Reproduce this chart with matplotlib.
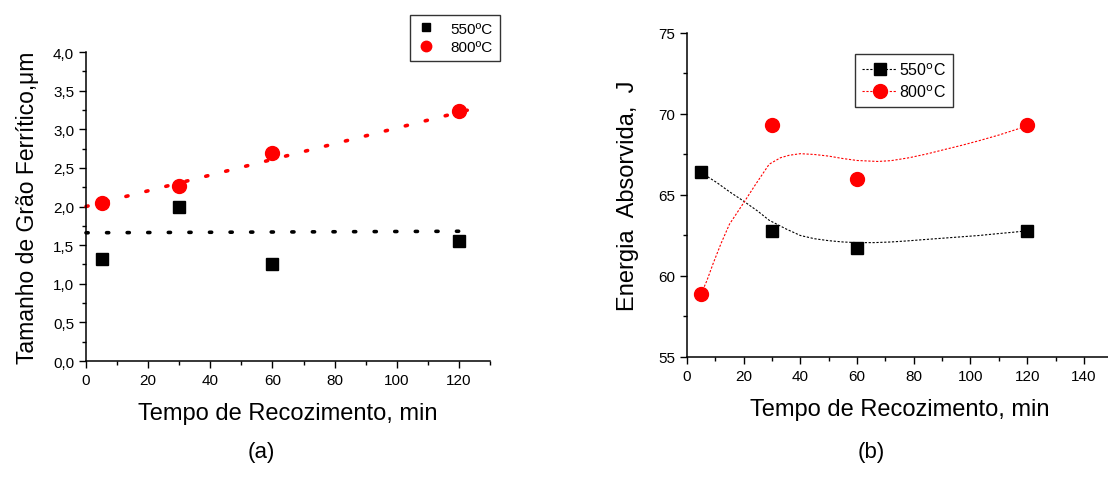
import numpy as np
import matplotlib.pyplot as plt
from matplotlib.ticker import MultipleLocator

plt.rcParams['font.family'] = ['Liberation Sans', 'DejaVu Sans']

#########################################################
# data
#########################################################
tempo = [5, 30, 60, 120]

# (a) grain size, um
grao_550 = [1.32, 2.00, 1.26, 1.55]
grao_800 = [2.05, 2.27, 2.69, 3.23]
fit550_x = [0, 122]
fit550_y = [1.66, 1.68]
fit800_x = [0, 126]
fit800_y = [2.00, 3.28]

# (b) absorbed energy, J
energia_550 = [66.4, 62.8, 61.7, 62.8]
energia_800 = [58.9, 69.3, 66.0, 69.3]
curva550_x = [5, 10.5, 15, 19.75, 25, 29, 35, 40, 45, 50, 55, 60, 66, 72, 78, 84.6, 90, 96.9, 103, 110, 115, 120]
curva550_y = [66.38, 65.77, 65.2, 64.65, 64.0, 63.44, 62.9, 62.5, 62.3, 62.18, 62.1, 62.06, 62.06, 62.1, 62.17, 62.26, 62.33, 62.42, 62.5, 62.62, 62.7, 62.79]
curva800_x = [5, 7, 9.3, 12, 15, 19.75, 24, 29, 33, 36, 40, 45, 50, 55, 60, 67.3, 72, 78.4, 85, 90.7, 97, 103, 110, 115, 120]
curva800_y = [58.9, 59.7, 60.8, 62.0, 63.2, 64.45, 65.6, 66.9, 67.3, 67.45, 67.55, 67.5, 67.4, 67.25, 67.13, 67.07, 67.12, 67.3, 67.55, 67.8, 68.07, 68.35, 68.7, 68.98, 69.26]

#########################################################
# Plot figures
#########################################################
fig = plt.figure(figsize=(11.08, 4.89), dpi=100)

# ---- (a)
ax1 = fig.add_axes([0.0776, 0.2597, 0.3646, 0.6319])
ax1.plot(fit550_x, fit550_y, color="black", lw=2.6, linestyle=(0, (0.6, 5.1)),
         dash_capstyle="round")
ax1.plot(fit800_x, fit800_y, color="red", lw=2.6, linestyle=(0, (0.6, 5.1)),
         dash_capstyle="round")
ax1.plot(tempo, grao_550, "s", color="black", ms=8.5, label="550ºC")
ax1.plot(tempo, grao_800, "o", color="red", ms=10, label="800ºC")
ax1.set_xlim(0, 130)
ax1.set_ylim(0, 4.0)
ax1.xaxis.set_major_locator(MultipleLocator(20))
ax1.xaxis.set_minor_locator(MultipleLocator(10))
ax1.yaxis.set_major_locator(MultipleLocator(0.5))
ax1.yaxis.set_minor_locator(MultipleLocator(0.25))
ax1.yaxis.set_major_formatter(plt.FuncFormatter(lambda v, p: ("%.1f" % v).replace(".", ",")))
ax1.set_xlabel("Tempo de Recozimento, min", fontsize=17, labelpad=11)
ax1.set_ylabel("Tamanho de Grão Ferrítico,μm", fontsize=16.5, labelpad=10)
leg1 = ax1.legend(loc="upper left", bbox_to_anchor=(0.802, 1.12), borderaxespad=0,
                  fontsize=11, frameon=True, fancybox=False, edgecolor="black",
                  handletextpad=1.0, borderpad=0.45, labelspacing=0.3,
                  handlelength=1.2, markerscale=0.75)
leg1.get_frame().set_linewidth(1.0)
fig.text(0.236, 0.075, "(a)", fontsize=16, ha="center", va="center")

# ---- (b)
ax2 = fig.add_axes([0.620, 0.2679, 0.3838, 0.6626])
ax2.plot(curva550_x, curva550_y, color="black", lw=0.8, linestyle=(0, (2, 1.5)))
ax2.plot(curva800_x, curva800_y, color="red", lw=0.8, linestyle=(0, (2, 1.5)))
ax2.plot(tempo, energia_550, "s", color="black", ms=8.5, linestyle="none")
ax2.plot(tempo, energia_800, "o", color="red", ms=10, linestyle="none")
# legend handles: marker with dotted line
h550, = ax2.plot([], [], "s", color="black", ms=8.5, lw=0.8, linestyle=(0, (2, 1.5)))
h800, = ax2.plot([], [], "o", color="red", ms=10, lw=0.8, linestyle=(0, (2, 1.5)))
ax2.set_xlim(0, 150)
ax2.set_ylim(55, 75)
ax2.xaxis.set_major_locator(MultipleLocator(20))
ax2.xaxis.set_minor_locator(MultipleLocator(10))
ax2.yaxis.set_major_locator(MultipleLocator(5))
ax2.yaxis.set_minor_locator(MultipleLocator(2.5))
ax2.set_xlabel("Tempo de Recozimento, min", fontsize=17, labelpad=11)
ax2.set_ylabel("Energia  Absorvida,  J", fontsize=17, labelpad=14)
leg2 = ax2.legend([h550, h800], ["550$^\\mathrm{o}$C", "800$^\\mathrm{o}$C"],
                  loc="upper left", bbox_to_anchor=(0.395, 0.935), borderaxespad=0,
                  fontsize=11.5, frameon=True, fancybox=False, edgecolor="black",
                  handletextpad=0.1, borderpad=0.45, labelspacing=0.35,
                  handlelength=2.2)
leg2.get_frame().set_linewidth(1.0)
fig.text(0.786, 0.075, "(b)", fontsize=16, ha="center", va="center")

for ax in (ax1, ax2):
    ax.spines["top"].set_visible(False)
    ax.spines["right"].set_visible(False)
    ax.tick_params(which="major", direction="out", length=5, width=1, labelsize=11)
    ax.tick_params(which="minor", direction="out", length=3, width=1)
    ax.spines["left"].set_linewidth(1.1)
    ax.spines["bottom"].set_linewidth(1.1)
    for m in ax.lines:
        m.set_clip_on(False)

fig.savefig("out.png", dpi=100)
